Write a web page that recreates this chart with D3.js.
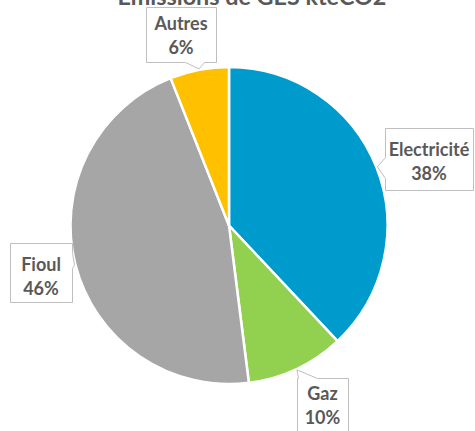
<!DOCTYPE html>
<html>
<head>
<meta charset="utf-8">
<script src="https://cdn.jsdelivr.net/npm/d3@7"></script>
<style>
  html, body { margin: 0; padding: 0; background: #ffffff; }
  svg { display: block; }
  text { font-family: Lato, "Open Sans", sans-serif; font-weight: bold; fill: #595959; }
</style>
</head>
<body>
<svg id="chart" width="475" height="431"></svg>
<script>
// Greenhouse gas emissions by energy source (share of kteCO2)
const title = "Emissions de GES kteCO2";
const categories = ["Electricité", "Gaz", "Fioul", "Autres"];
const shares = [38, 10, 46, 6];
const colors = ["#009BCD", "#92D050", "#A6A6A6", "#FFC000"];

const W = 475, H = 431;
const cx = 229, cy = 225.5, radius = 158.5;

const svg = d3.select("#chart");

// Title (partly above the top edge of the canvas)
const titleEl = svg.append("text")
  .attr("x", 252)
  .attr("y", 5)
  .attr("text-anchor", "middle")
  .style("font-size", "24px")
  .text(title);
const tw = titleEl.node().getComputedTextLength();
titleEl.style("font-size", (24 * 269 / tw) + "px");

// Pie
const pie = d3.pie().sort(null).value(d => d.value);
const arcs = pie(categories.map((c, i) => ({ name: c, value: shares[i], color: colors[i] })));
const arc = d3.arc().innerRadius(0).outerRadius(radius);

const g = svg.append("g").attr("transform", `translate(${cx},${cy})`);
g.selectAll("path.slice")
  .data(arcs)
  .join("path")
  .attr("class", "slice")
  .attr("d", arc)
  .attr("fill", d => d.data.color)
  .attr("stroke", "#ffffff")
  .attr("stroke-width", 2.5)
  .attr("stroke-linejoin", "round");

// Callout boxes: geometry, pointer side, and first text baseline offset
const boxes = {
  "Electricité": { x: 385, y: 128, w: 88, h: 62, side: "left", a0: 157, a1: 178, base: 28 },
  "Gaz":         { x: 297, y: 378, w: 51, h: 62, side: "top", a0: 298, a1: 317, base: 22 },
  "Fioul":       { x: 10,  y: 243, w: 62, h: 59, side: "right", a0: 252, a1: 268, base: 28 },
  "Autres":      { x: 146, y: 7,   w: 70, h: 55, side: "bottom", a0: 185, a1: 204, base: 23 }
};
const lineGap = 24;

function calloutPath(b, tip) {
  const x = b.x + 0.5, y = b.y + 0.5, w = b.w, h = b.h;
  const p = d3.path();
  p.moveTo(x, y);
  if (b.side === "top") { p.lineTo(b.a0 + 0.5, y); p.lineTo(tip[0], tip[1]); p.lineTo(b.a1 + 0.5, y); }
  p.lineTo(x + w, y);
  if (b.side === "right") { p.lineTo(x + w, b.a0 + 0.5); p.lineTo(tip[0], tip[1]); p.lineTo(x + w, b.a1 + 0.5); }
  p.lineTo(x + w, y + h);
  if (b.side === "bottom") { p.lineTo(b.a1 + 0.5, y + h); p.lineTo(tip[0], tip[1]); p.lineTo(b.a0 + 0.5, y + h); }
  p.lineTo(x, y + h);
  if (b.side === "left") { p.lineTo(x, b.a1 + 0.5); p.lineTo(tip[0], tip[1]); p.lineTo(x, b.a0 + 0.5); }
  p.closePath();
  return p.toString();
}

const fmt = d3.format(".0f");
const labels = svg.append("g");
arcs.forEach(d => {
  const b = boxes[d.data.name];
  const mid = (d.startAngle + d.endAngle) / 2;
  const tip = [cx + (radius + 1) * Math.sin(mid), cy - (radius + 1) * Math.cos(mid)];
  labels.append("path")
    .attr("d", calloutPath(b, tip))
    .attr("fill", "#ffffff")
    .attr("stroke", "#BFBFBF")
    .attr("stroke-width", 1);
  const tx = b.x + b.w / 2;
  labels.append("text")
    .attr("x", tx)
    .attr("y", b.y + b.base)
    .attr("text-anchor", "middle")
    .style("font-size", "18px")
    .text(d.data.name);
  labels.append("text")
    .attr("x", tx)
    .attr("y", b.y + b.base + lineGap)
    .attr("text-anchor", "middle")
    .style("font-size", "18px")
    .text(fmt(d.data.value) + "%");
});
</script>
</body>
</html>
